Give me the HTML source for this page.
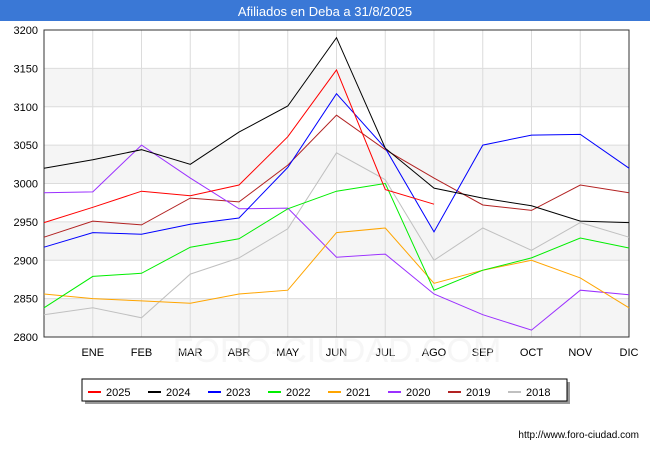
<!DOCTYPE html>
<html><head><meta charset="utf-8"><style>
body{margin:0;background:#fff;font-family:"Liberation Sans","DejaVu Sans",sans-serif}
#wrap{position:relative;width:650px;height:450px;overflow:hidden}
</style></head><body>
<div id="wrap">
<svg id="svg" width="650" height="450" xmlns="http://www.w3.org/2000/svg">
<rect x="0" y="0" width="650" height="21" fill="#3a78d6"/>
<text x="325" y="16" text-anchor="middle" font-size="13" fill="#fff">Afiliados en Deba a 31/8/2025</text>
<g id="plot"></g>
<text x="337" y="362" text-anchor="middle" font-size="34" fill="#eeeeee" fill-opacity="0.5">FORO-CIUDAD.COM</text>
<rect x="85" y="382" width="485" height="22" fill="#999"/>
<rect x="82" y="379" width="485" height="22" fill="#fff" stroke="#000" stroke-width="1"/>
<g id="legend"></g>
<text x="639" y="438" text-anchor="end" font-size="10" fill="#000">http://www.foro-ciudad.com</text>
</svg>
</div>
<script>
const months=["","ENE","FEB","MAR","ABR","MAY","JUN","JUL","AGO","SEP","OCT","NOV","DIC"];
const yTicks=[2800,2850,2900,2950,3000,3050,3100,3150,3200];
const seriesNames=["2025","2024","2023","2022","2021","2020","2019","2018"];
const seriesColors=["#ff0000","#000000","#0000ff","#00ee00","#ffa500","#9b30ff","#b22222","#c0c0c0"];
const s2025=[2949,2969,2990,2984,2998,3061,3148,2992,2973];
const s2024=[3020,3031,3044,3025,3067,3101,3190,3046,2994,2981,2971,2951,2949];
const s2023=[2917,2936,2934,2947,2955,3021,3117,3046,2937,3050,3063,3064,3020];
const s2022=[2838,2879,2883,2917,2928,2967,2990,3000,2861,2887,2903,2929,2916];
const s2021=[2856,2850,2847,2844,2856,2861,2936,2942,2870,2887,2900,2877,2838];
const s2020=[2988,2989,3050,3007,2967,2968,2904,2908,2856,2829,2809,2861,2855];
const s2019=[2930,2951,2946,2981,2976,3024,3089,3044,3007,2972,2965,2998,2988];
const s2018=[2829,2838,2825,2882,2903,2941,3040,3005,2900,2942,2913,2949,2930];
const allSeries=[s2025,s2024,s2023,s2022,s2021,s2020,s2019,s2018];

const X0=44,X1=629,Y0=337,Y1=30,VMIN=2800,VMAX=3200;
const xs=i=>X0+(X1-X0)*i/12;
const ys=v=>Y0-(Y0-Y1)*(v-VMIN)/(VMAX-VMIN);
const NS="http://www.w3.org/2000/svg";
const plot=document.getElementById('plot');
function mk(tag,attrs,parent){const e=document.createElementNS(NS,tag);for(const k in attrs)e.setAttribute(k,attrs[k]);parent.appendChild(e);return e;}
for(let i=0;i<yTicks.length-1;i++){
  if(i%2===0){
    const r=mk('rect',{x:X0,y:ys(yTicks[i+1]),width:X1-X0,height:ys(yTicks[i])-ys(yTicks[i+1]),fill:'#f5f5f5'},plot);
    
    
  }
}
yTicks.forEach(v=>{
  const l=mk('line',{x1:X0,x2:X1,y1:ys(v),y2:ys(v),stroke:'#dcdcdc','stroke-width':1},plot);
  
  
  const t=mk('text',{x:X0-6,y:ys(v)+4,'text-anchor':'end','font-size':11,fill:'#000'},plot);
  t.textContent=v;
  
  
});
months.forEach((m,i)=>{
  const l=mk('line',{x1:xs(i),x2:xs(i),y1:Y1,y2:Y0,stroke:'#dcdcdc','stroke-width':1},plot);
  
  
  if(m){
    const t=mk('text',{x:xs(i),y:356,'text-anchor':'middle','font-size':11,fill:'#000'},plot);
    t.textContent=m;
    
    
  }
});
const frame=mk('rect',{x:X0,y:Y1,width:X1-X0,height:Y0-Y1,fill:'none',stroke:'#333','stroke-width':1},plot);


for(let k=allSeries.length-1;k>=0;k--){
  const d=allSeries[k].map((v,i)=>(i?'L':'M')+xs(i).toFixed(1)+','+ys(v).toFixed(1)).join(' ');
  const p=mk('path',{d:d,fill:'none',stroke:seriesColors[k],'stroke-width':1},plot);
  
  
}
const lg=document.getElementById('legend');
const lx=[88,148,208,268,328,388,448,508];
seriesNames.forEach((n,k)=>{
  const g=mk('g',{},lg);
  
  
  mk('line',{x1:lx[k],x2:lx[k]+13,y1:392,y2:392,stroke:seriesColors[k],'stroke-width':2},g);
  const t=mk('text',{x:lx[k]+18,y:396,'font-size':11,fill:'#000'},g);
  t.textContent=n;
});
</script>
</body></html>
